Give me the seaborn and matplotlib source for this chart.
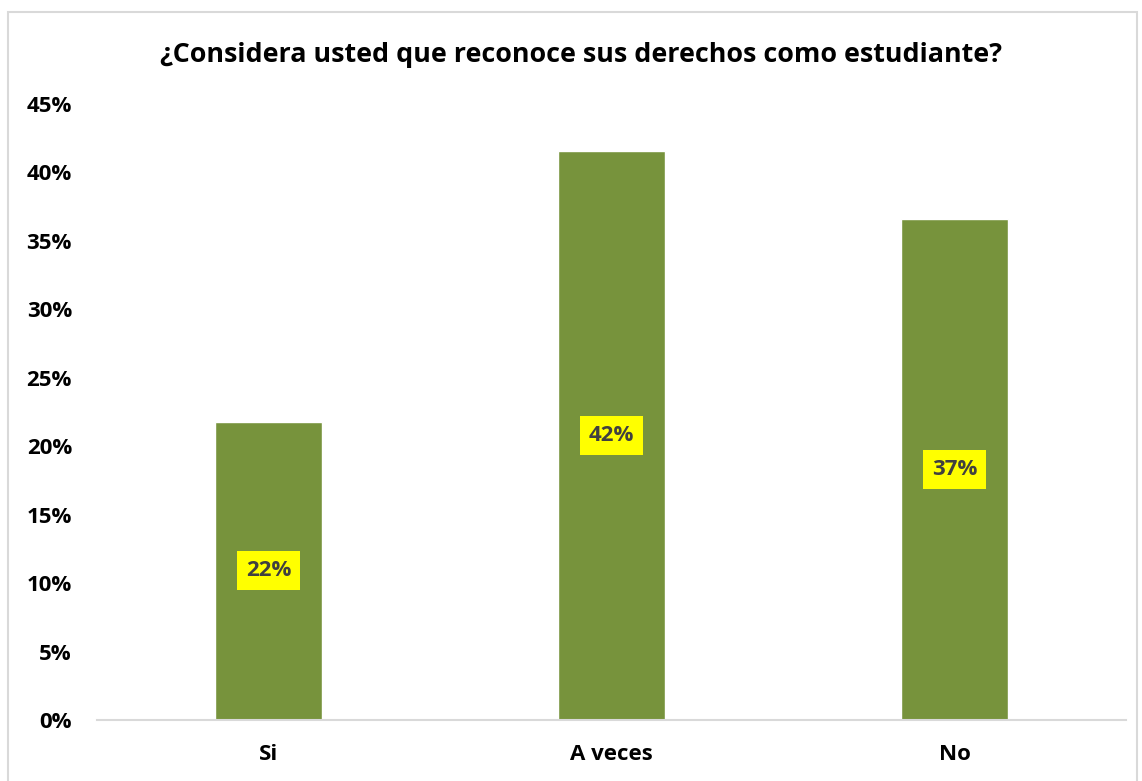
import matplotlib
matplotlib.use("Agg")
import matplotlib.pyplot as plt
import seaborn as sns
import pandas as pd
from matplotlib.patches import Rectangle
from matplotlib.ticker import FuncFormatter

categories = ["Si", "A veces", "No"]
values = [0.218, 0.416, 0.366]
labels = ["22%", "42%", "37%"]
yticks = [0, 0.05, 0.10, 0.15, 0.20, 0.25, 0.30, 0.35, 0.40, 0.45]
title = "¿Considera usted que reconoce sus derechos como estudiante?"

sns.set_theme(style="white")
plt.rcParams['font.family'] = ['Open Sans', 'DejaVu Sans']

df = pd.DataFrame({"cat": categories, "val": values})

fig = plt.figure(figsize=(11.42, 7.81), dpi=100)
ax = fig.add_axes([0.0849, 0.0781, 0.9011, 0.7887])
sns.barplot(data=df, x="cat", y="val", color="#77933C", saturation=1, width=0.31, ax=ax)

ax.set_ylim(0, 0.45)
ax.set_yticks(yticks)
ax.yaxis.set_major_formatter(FuncFormatter(lambda v, p: f"{round(v*100)}%"))
ax.set_xlabel("")
ax.set_ylabel("")
for s in ["top", "right", "left"]:
    ax.spines[s].set_visible(False)
ax.spines["bottom"].set_color("#D9D9D9")
ax.spines["bottom"].set_linewidth(1.5)
ax.tick_params(axis="both", length=0, labelsize=16)
ax.tick_params(axis="y", pad=18)
ax.tick_params(axis="x", pad=17)
for t in ax.get_xticklabels() + ax.get_yticklabels():
    t.set_fontweight("bold")
    t.set_color("black")

for i, (v, lab) in enumerate(zip(values, labels)):
    ax.text(i, v / 2, lab, ha="center", va="center", fontsize=16, fontweight="bold",
            color="#404040",
            bbox=dict(boxstyle="square,pad=0.4", facecolor="#FFFF00", edgecolor="none"))

fig.text(0.509, 0.93, title, ha="center", va="center", fontsize=19.4, fontweight="bold", color="black")

fig.patches.append(Rectangle((0.007, -0.01), 0.989, 0.995, transform=fig.transFigure,
                             fill=False, edgecolor="#D9D9D9", linewidth=1.5))

fig.savefig("out.png", dpi=100)
